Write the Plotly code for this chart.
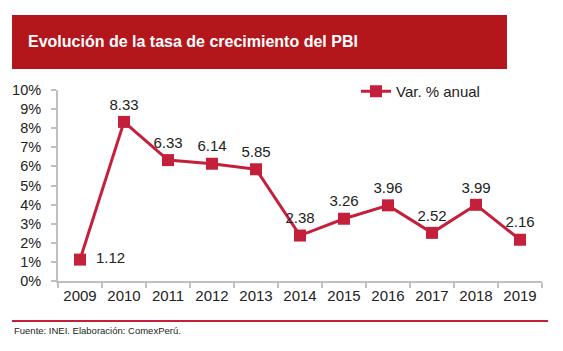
import plotly.graph_objects as go

years = ["2009", "2010", "2011", "2012", "2013", "2014", "2015", "2016", "2017", "2018", "2019"]
growth = [1.12, 8.33, 6.33, 6.14, 5.85, 2.38, 3.26, 3.96, 2.52, 3.99, 2.16]
labels = ["1.12", "8.33", "6.33", "6.14", "5.85", "2.38", "3.26", "3.96", "2.52", "3.99", "2.16"]
series_name = "Var. % anual"
title_text = "Evolución de la tasa de crecimiento del PBI"
source_text = "Fuente: INEI. Elaboración: ComexPerú."

W, H = 563, 351
L, R, T, B = 58, 542, 90, 281
pw, ph = R - L, B - T

def px(x):
    return (x - L) / pw

def py(y):
    return (B - y) / ph

line_color = "#C4203B"
header_color = "#B3161B"
font = "Liberation Sans, Arial, sans-serif"

positions = ["middle right"] + ["top center"] * (len(years) - 1)
shown = ["\u2002" + t if p == "middle right" else t for t, p in zip(labels, positions)]

fig = go.Figure()
fig.add_trace(go.Scatter(
    x=years, y=growth, mode="lines+markers+text", name=series_name,
    text=shown, textposition=positions,
    textfont=dict(family=font, size=15, color="#222222"),
    line=dict(color=line_color, width=3),
    marker=dict(symbol="square", size=12, color=line_color),
    cliponaxis=False,
))

fig.update_layout(
    width=W, height=H,
    margin=dict(l=L, r=W - R, t=T, b=H - B, autoexpand=False),
    paper_bgcolor="white", plot_bgcolor="white",
    font=dict(family=font, size=15, color="#222222"),
    showlegend=True,
    legend=dict(x=px(356), y=py(75), xanchor="left", yanchor="top",
                bgcolor="rgba(0,0,0,0)", font=dict(size=15, color="#222222"),
                itemwidth=30),
    xaxis=dict(type="category", range=[-0.5, len(years) - 0.5], showline=True,
               linecolor="#BFBFBF", linewidth=2, tickangle=0,
               ticks="outside", tickson="boundaries", ticklen=5, tickcolor="#BFBFBF",
               tickwidth=2, showgrid=False, tickfont=dict(size=15), automargin=False),
    yaxis=dict(range=[0, 10], dtick=1, ticksuffix="%", showline=True,
               linecolor="#BFBFBF", linewidth=2, ticks="outside", ticklen=5,
               tickcolor="#BFBFBF", tickwidth=2, showgrid=False, zeroline=False,
               tickfont=dict(size=14.5), ticklabelstandoff=7, automargin=False),
    shapes=[
        dict(type="rect", xref="paper", yref="paper",
             x0=px(12), x1=px(507), y0=py(69), y1=py(15),
             fillcolor=header_color, line=dict(width=0), layer="below"),
        dict(type="line", xref="paper", yref="paper",
             x0=px(12), x1=px(548), y0=py(321), y1=py(321),
             line=dict(color=line_color, width=2)),
    ],
    annotations=[
        dict(text="<b>" + title_text + "</b>", xref="paper", yref="paper",
             x=px(26), y=py(42), xanchor="left", yanchor="middle", showarrow=False,
             font=dict(family=font, size=16, color="white")),
        dict(text=source_text, xref="paper", yref="paper",
             x=px(12), y=py(330), xanchor="left", yanchor="middle", showarrow=False,
             font=dict(family=font, size=9.5, color="#222222")),
    ],
)

fig.write_html("out.html")
